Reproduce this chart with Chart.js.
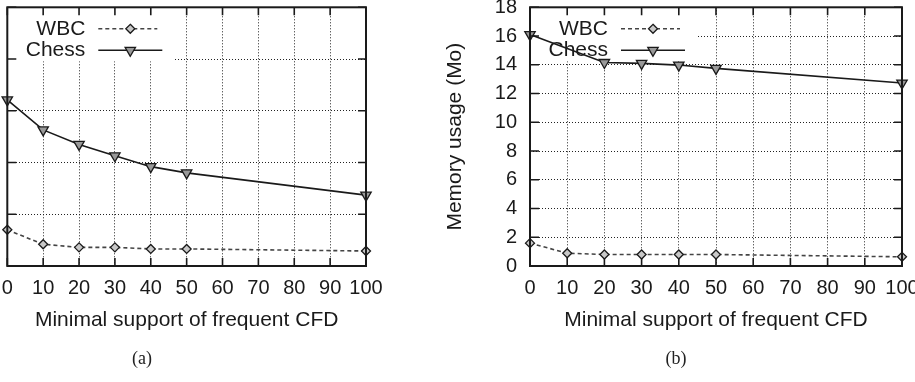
<!DOCTYPE html>
<html>
<head>
<meta charset="utf-8">
<script src="https://cdn.jsdelivr.net/npm/chart.js@4/dist/chart.umd.min.js"></script>
<style>
  body { margin: 0; width: 915px; height: 382px; overflow: hidden; position: relative; background: #fff; }
  .panel { position: absolute; top: 0; height: 382px; }
  .caption { position: absolute; top: 348px; font: 18px "Liberation Serif", "DejaVu Serif", serif; color: #222; transform: translateX(-50%); }
</style>
</head>
<body>
<div class="panel" style="left:0;width:420px"><canvas id="chartA"></canvas></div>
<div class="panel" style="left:420px;width:520px"><canvas id="chartB"></canvas></div>
<div class="caption" style="left:142px">(a)</div>
<div class="caption" style="left:676px">(b)</div>

<script>
// valeurs
var minSupport = [0, 10, 20, 30, 40, 50, 100];
var xTicks = [0, 10, 20, 30, 40, 50, 60, 70, 80, 90, 100];

// (a) : graduations de l'axe y coupées dans l'image, échelle relative 0..5
var yTicksA = [0, 1, 2, 3, 4, 5];
var wbcA = [0.70, 0.42, 0.36, 0.36, 0.33, 0.33, 0.29];
var chessA = [3.21, 2.63, 2.35, 2.13, 1.92, 1.80, 1.37];

// (b) : mémoire (Mo) - pas de point Chess visible à 10
var yTicksB = [0, 2, 4, 6, 8, 10, 12, 14, 16, 18];
var wbcB = [1.59, 0.89, 0.80, 0.80, 0.80, 0.80, 0.64];
var chessB = [16.1, null, 14.16, 14.1, 13.98, 13.75, 12.73];

var xTitle = 'Minimal support of frequent CFD';
var yTitleB = 'Memory usage (Mo)';
var seriesNames = ['WBC', 'Chess'];

var FONT = '"Liberation Sans", Arial, sans-serif';
var INK = '#1a1a1a';

function toPoints(values) {
  return values.map(function (v, i) { return { x: minSupport[i], y: v }; });
}

function setTicks(list) {
  return function (scale) {
    scale.ticks = list.map(function (v) { return { value: v }; });
  };
}

// marqueurs façon gnuplot pour la légende
function drawMarker(ctx, style, x, y) {
  ctx.beginPath();
  if (style === 'triangle') {
    var r = 6, s = r * Math.sin(Math.PI / 3);
    ctx.moveTo(x, y + r);
    ctx.lineTo(x - s, y - r / 2);
    ctx.lineTo(x + s, y - r / 2);
  } else {
    var d = 4.5;
    ctx.moveTo(x, y - d);
    ctx.lineTo(x + d, y);
    ctx.lineTo(x, y + d);
    ctx.lineTo(x - d, y);
  }
  ctx.closePath();
  ctx.fill();
  ctx.stroke();
}

var gnuplotFrame = {
  id: 'gnuplotFrame',
  beforeDatasetsDraw: function (chart) {
    // pas de grille sous la légende
    var a = chart.chartArea, ctx = chart.ctx;
    ctx.save();
    ctx.fillStyle = '#fff';
    ctx.fillRect(a.left + 1, a.top + 1, 166, 53);
    ctx.restore();
  },
  afterDatasetsDraw: function (chart) {
    var a = chart.chartArea, ctx = chart.ctx;
    var xs = chart.scales.x, ys = chart.scales.y;
    ctx.save();

    // graduations vers l'intérieur sur les 4 côtés
    ctx.strokeStyle = INK;
    ctx.lineWidth = 1.6;
    ctx.beginPath();
    xs.ticks.forEach(function (t) {
      var px = xs.getPixelForValue(t.value);
      ctx.moveTo(px, a.bottom); ctx.lineTo(px, a.bottom - 8);
      ctx.moveTo(px, a.top); ctx.lineTo(px, a.top + 8);
    });
    ys.ticks.forEach(function (t) {
      var py = ys.getPixelForValue(t.value);
      ctx.moveTo(a.left, py); ctx.lineTo(a.left + 9, py);
      ctx.moveTo(a.right, py); ctx.lineTo(a.right - 8, py);
    });
    ctx.stroke();

    ctx.lineWidth = 2;
    ctx.strokeRect(a.left, a.top, a.right - a.left, a.bottom - a.top);

    // légende
    ctx.font = '21px ' + FONT;
    ctx.textAlign = 'right';
    ctx.textBaseline = 'middle';
    chart.data.datasets.forEach(function (ds, i) {
      var y = a.top + 21.5 + i * 21.5;
      ctx.fillStyle = INK;
      ctx.fillText(ds.label, a.left + 78, y);
      ctx.strokeStyle = ds.borderColor;
      ctx.lineWidth = ds.borderWidth;
      ctx.setLineDash(ds.borderDash || []);
      ctx.beginPath();
      ctx.moveTo(a.left + 91, y);
      ctx.lineTo(a.left + (i === 0 ? 150 : 155), y);
      ctx.stroke();
      ctx.setLineDash([]);
      ctx.lineWidth = 1.3;
      ctx.strokeStyle = INK;
      ctx.fillStyle = ds.pointBackgroundColor;
      drawMarker(ctx, ds.pointStyle, a.left + 123, y);
    });
    ctx.restore();
  }
};

function makeDatasets(wbc, chess) {
  return [
    {
      label: seriesNames[0],
      data: toPoints(wbc),
      borderColor: '#444',
      borderWidth: 1.6,
      borderDash: [4, 3],
      pointStyle: 'rectRot',
      pointRadius: 4.5,
      pointBorderColor: INK,
      pointBorderWidth: 1.3,
      pointBackgroundColor: '#c8c8c8',
      spanGaps: true,
      clip: false
    },
    {
      label: seriesNames[1],
      data: toPoints(chess),
      borderColor: INK,
      borderWidth: 1.6,
      pointStyle: 'triangle',
      rotation: 180,
      pointRadius: 6,
      pointBorderColor: INK,
      pointBorderWidth: 1.3,
      pointBackgroundColor: '#999',
      spanGaps: true,
      clip: false
    }
  ];
}

function makeChart(id, cfg) {
  var ctx = document.getElementById(id).getContext('2d');
  return new Chart(ctx, {
    type: 'line',
    data: { datasets: makeDatasets(cfg.wbc, cfg.chess) },
    plugins: [gnuplotFrame],
    options: {
      responsive: true,
      maintainAspectRatio: false,
      animation: false,
      events: [],
      layout: { padding: { left: 0, top: 1, right: cfg.padRight, bottom: 0 } },
      plugins: { legend: { display: false }, tooltip: { enabled: false } },
      scales: {
        x: {
          type: 'linear',
          min: 0,
          max: 100,
          afterBuildTicks: setTicks(xTicks),
          grid: { color: '#222', lineWidth: 1, drawTicks: false },
          border: { display: false, dash: [1, 2] },
          ticks: { autoSkip: false, maxRotation: 0, padding: 10, color: INK, font: { family: FONT, size: 20 } },
          title: { display: true, text: xTitle, color: INK, font: { family: FONT, size: 21 }, padding: { top: 0, bottom: 49.4 } },
          afterFit: function (s) { s.height = 116; s.paddingLeft = 0; s.paddingRight = 0; }
        },
        y: {
          min: cfg.yMin,
          max: cfg.yMax,
          afterBuildTicks: setTicks(cfg.yTicks),
          grid: { color: '#222', lineWidth: 1, drawTicks: false },
          border: { display: false, dash: [1, 2] },
          ticks: { display: cfg.showY, padding: 13, color: INK, font: { family: FONT, size: 20 } },
          title: { display: cfg.showY, text: yTitleB, color: INK, font: { family: FONT, size: 21 }, padding: { top: 22.4, bottom: 0 } },
          afterFit: function (s) { s.width = cfg.yWidth; s.paddingTop = 0; s.paddingBottom = 0; }
        }
      }
    }
  });
}

makeChart('chartA', { wbc: wbcA, chess: chessA, yTicks: yTicksA, yMin: 0, yMax: 5, showY: false, yWidth: 7, padRight: 54 });
makeChart('chartB', { wbc: wbcB, chess: chessB, yTicks: yTicksB, yMin: 0, yMax: 18, showY: true, yWidth: 110, padRight: 38 });
</script>
</body>
</html>
